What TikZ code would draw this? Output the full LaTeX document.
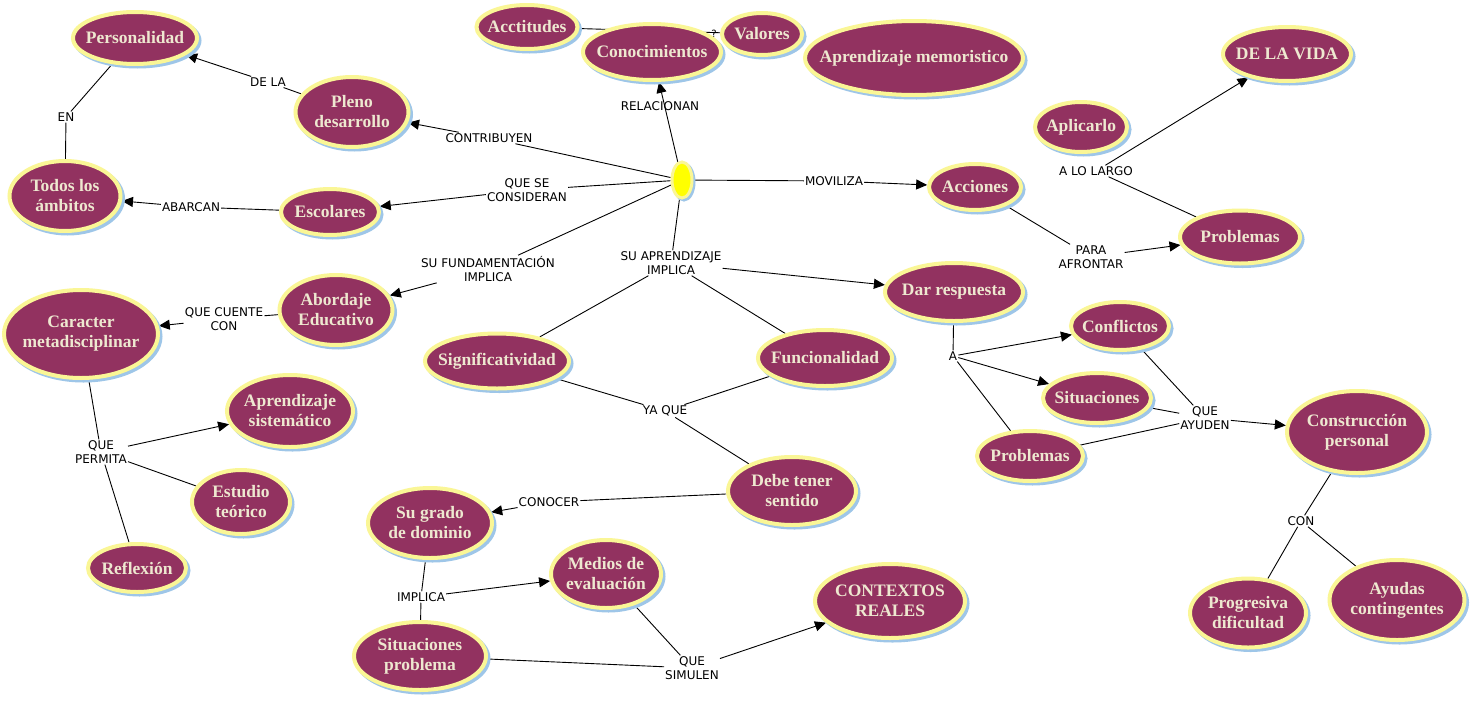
\documentclass[tikz,border=0pt]{standalone}
\usepackage{fontspec}
\setmainfont{Liberation Serif}
\newfontfamily\labelfont{DejaVu Sans}
\usetikzlibrary{shapes.geometric,arrows.meta,shadows,backgrounds}
\definecolor{maroon}{RGB}{146,50,96}
\definecolor{paleyel}{RGB}{250,246,150}
\definecolor{shblue}{RGB}{158,198,232}
\definecolor{cream}{RGB}{238,232,208}
\definecolor{brightyel}{RGB}{255,255,0}
\tikzset{
  concept/.style={ellipse, fill=maroon, draw=paleyel, line width=4pt, inner sep=0pt,
    drop shadow={shadow xshift=2.5pt, shadow yshift=-2.5pt, fill=shblue, draw=shblue, line width=4pt, opacity=1}},
  ctext/.style={text=cream, font=\fontsize{17.5}{20}\selectfont\bfseries, align=center, inner sep=0pt},
  lab/.style={font=\labelfont\fontsize{12}{14}\selectfont, align=center, inner sep=1pt, text=black},
  con/.style={line width=0.9pt, draw=black},
  arr/.style={con, -{Triangle[length=11pt,width=10pt]}},
}
\newcommand\cpt[5]{%
  \node[concept, minimum width=#3pt, minimum height=#4pt] (#1) at (#2) {};
  \node[ctext] (#1-t) at (#1) {#5};}
\begin{document}
\begin{tikzpicture}[x=1pt,y=-1pt]
\useasboundingbox (0,0) rectangle (1471,707);

\node[lab, font=\labelfont\fontsize{10}{11}\selectfont] (lq) at (714,34) {?};

\cpt{pers}{135,38}{124}{52}{Personalidad}
\cpt{pleno}{352,112}{113}{70}{Pleno\\desarrollo}
\cpt{todos}{65,196}{111}{70}{Todos los\\ámbitos}
\cpt{esc}{330,212}{98}{46}{Escolares}
\cpt{acct}{527,27}{101}{44}{Acctitudes}
\cpt{conoc}{652,52}{138}{56}{Conocimientos}
\cpt{val}{762,34}{80}{42}{Valores}
\cpt{memo}{914,58}{218}{74}{Aprendizaje memoristico}
\cpt{vida}{1287,54}{128}{54}{DE LA VIDA}
\cpt{apl}{1081,127}{92}{50}{Aplicarlo}
\cpt{acc}{975,187}{92}{46}{Acciones}
\cpt{prob1}{1240,237}{120}{53}{Problemas}
\cpt{dar}{954,292}{138}{58}{Dar respuesta}
\cpt{abord}{336,310}{113}{70}{Abordaje\\Educativo}
\cpt{car}{81,334}{154}{88}{Caracter\\metadisciplinar}
\cpt{sig}{497,361}{144}{55}{Significatividad}
\cpt{fun}{825,358}{134}{56}{Funcionalidad}
\cpt{conf}{1120,326}{98}{48}{Conflictos}
\cpt{sit}{1097,398}{108}{50}{Situaciones}
\cpt{prob2}{1030,456}{106}{50}{Problemas}
\cpt{cons}{1357,432}{140}{82}{Construcción\\personal}
\cpt{apsis}{290,411}{126}{72}{Aprendizaje\\sistemático}
\cpt{est}{241,502}{98}{64}{Estudio\\teórico}
\cpt{refl}{137,568}{98}{48}{Reflexión}
\cpt{deb}{792,491}{128}{68}{Debe tener\\sentido}
\cpt{grado}{430,523}{124}{70}{Su grado\\de dominio}
\cpt{med}{606,574}{110}{68}{Medios de\\evaluación}
\cpt{ctx}{890,601}{150}{74}{CONTEXTOS\\REALES}
\cpt{sitp}{420,656}{132}{68}{Situaciones\\problema}
\cpt{prog}{1248,613}{116}{69}{Progresiva\\dificultad}
\cpt{ayu}{1397,600}{135}{80}{Ayudas\\contingentes}

\node[ellipse, fill=brightyel, draw=paleyel, line width=3pt, minimum width=20pt, minimum height=36pt, inner sep=0pt,
  drop shadow={shadow xshift=2pt, shadow yshift=-2pt, fill=shblue, draw=shblue, line width=3pt, opacity=1}] (c) at (682,180) {};

\node[lab] (lcontrib) at (489,138) {CONTRIBUYEN};
\node[lab] (lqs) at (527,190) {QUE SE\\CONSIDERAN};
\node[lab] (lfund) at (488,269) {SU FUNDAMENTACIÓN\\IMPLICA};
\node[lab] (lapr) at (671,263) {SU APRENDIZAJE\\IMPLICA};
\node[lab] (lrel) at (660,106) {RELACIONAN};
\node[lab] (lmov) at (834,181) {MOVILIZA};
\node[lab] (lde) at (268,82) {DE LA};
\node[lab] (len) at (66,117) {EN};
\node[lab] (labar) at (191,207) {ABARCAN};
\node[lab] (llargo) at (1096,171) {A LO LARGO};
\node[lab] (lpara) at (1091,257) {PARA\\AFRONTAR};
\node[lab] (lcuente) at (224,319) {QUE CUENTE\\CON};
\node[lab] (lperm) at (101,452) {QUE\\PERMITA};
\node[lab] (la) at (953,356) {A};
\node[lab] (layud) at (1205,418) {QUE\\AYUDEN};
\node[lab] (lya) at (665,411) {YA QUE};
\node[lab] (lconoc) at (549,502) {CONOCER};
\node[lab] (limp) at (421,597) {IMPLICA};
\node[lab] (lsim) at (692,668) {QUE\\SIMULEN};
\node[lab] (lcn) at (1301,521) {CON};

\begin{scope}[on background layer]
\fill[white] (0,0) rectangle (1471,707);
\draw[con] (acct) -- (val);
\draw[con] (c) -- (lcontrib); \draw[arr] (lcontrib) -- (pleno);
\draw[con] (c) -- (lqs); \draw[arr] (lqs) -- (esc);
\draw[con] (c) -- (lfund); \draw[arr] (lfund) -- (abord);
\draw[con] (c) -- (lapr); \draw[con] (lapr) -- (sig); \draw[con] (lapr) -- (fun); \draw[arr] (lapr) -- (dar);
\draw[arr] (c) -- (conoc);
\draw[con] (c) -- (lmov); \draw[arr] (lmov) -- (acc);
\draw[con] (pleno) -- (lde); \draw[arr] (lde) -- (pers);
\draw[con] (esc) -- (labar); \draw[arr] (labar) -- (todos);
\draw[con] (todos) -- (len); \draw[con] (len) -- (pers);
\draw[con] (acc) -- (lpara); \draw[arr] (lpara) -- (prob1);
\draw[con] (prob1) -- (llargo); \draw[arr] (llargo) -- (vida);
\draw[con] (abord) -- (lcuente); \draw[arr] (lcuente) -- (car);
\draw[con] (car) -- (lperm); \draw[arr] (lperm) -- (apsis); \draw[con] (lperm) -- (est); \draw[con] (lperm) -- (refl);
\draw[con] (dar) -- (la); \draw[arr] (la) -- (conf); \draw[arr] (la) -- (sit); \draw[con] (la) -- (prob2);
\draw[con] (conf) -- (layud); \draw[con] (sit) -- (layud); \draw[con] (prob2) -- (layud); \draw[arr] (layud) -- (cons);
\draw[con] (sig) -- (lya); \draw[con] (fun) -- (lya); \draw[con] (lya) -- (deb);
\draw[con] (deb) -- (lconoc); \draw[arr] (lconoc) -- (grado);
\draw[con] (grado) -- (limp); \draw[arr] (limp) -- (med); \draw[con] (sitp) -- (limp);
\draw[con] (med) -- (lsim); \draw[con] (sitp) -- (lsim); \draw[arr] (lsim) -- (ctx);
\draw[con] (cons) -- (lcn); \draw[con] (lcn) -- (prog); \draw[con] (lcn) -- (ayu);
\end{scope}
\end{tikzpicture}
\end{document}
